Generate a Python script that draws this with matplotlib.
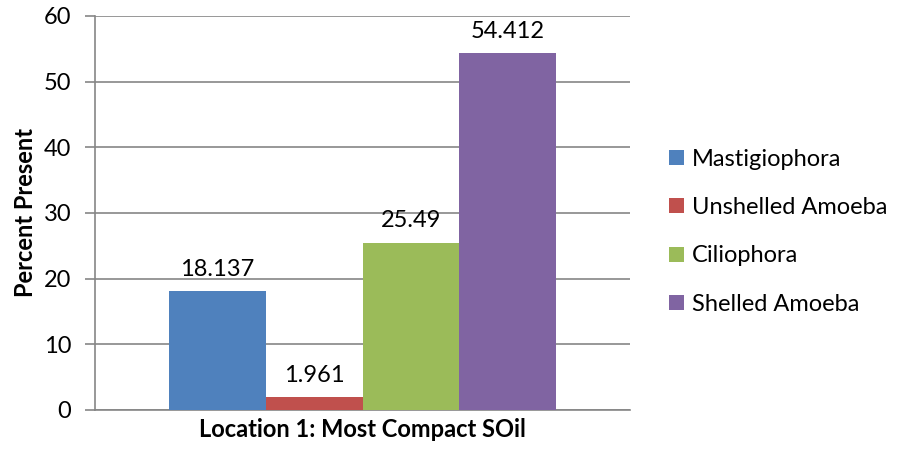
import numpy as np
import matplotlib.pyplot as plt

plt.rcParams['font.family'] = ['Lato', 'DejaVu Sans']

series = ['Mastigiophora', 'Unshelled Amoeba', 'Ciliophora', 'Shelled Amoeba']
values = [18.137, 1.961, 25.49, 54.412]
labels = ['18.137', '1.961', '25.49', '54.412']
colors = ['#4F81BD', '#C0504D', '#9BBB59', '#8064A2']
category = 'Location 1: Most Compact SOil'

fig = plt.figure(figsize=(9, 4.49), dpi=100)
ax = fig.add_axes([0.1056, 0.0869, 0.5944, 0.8775])

w = 0.181
offsets = (np.arange(len(series)) - 1.5) * w
for off, v, lab, c, name in zip(offsets, values, labels, colors, series):
    ax.bar(off, v, width=w, color=c, label=name, zorder=3)
    ax.annotate(lab, (off, v), xytext=(0, 8), textcoords='offset points',
                ha='center', va='bottom', fontsize=17, color='#000000')

ax.set_xlim(-0.5, 0.5)
ax.set_ylim(0, 60)
ax.set_yticks(range(0, 61, 10))
ax.yaxis.grid(True, color='#868686', linewidth=1.2, zorder=0)
ax.set_xticks([0])
ax.set_xticklabels([category], fontsize=17, fontweight='bold')
ax.tick_params(axis='x', length=0, pad=6)
ax.tick_params(axis='y', length=7, width=1.2, color='#868686', labelsize=17, pad=10)
for s in ['top', 'right']:
    ax.spines[s].set_visible(False)
for s in ['left', 'bottom']:
    ax.spines[s].set_color('#868686')
    ax.spines[s].set_linewidth(1.2)
ax.set_ylabel('Percent Present', fontsize=17, fontweight='bold', labelpad=5)

ax.legend(loc='center left', bbox_to_anchor=(1.034, 0.452), frameon=False,
          fontsize=17, handlelength=0.6, handleheight=0.6, handletextpad=0.35,
          labelspacing=1.15)

fig.savefig('out.png', dpi=100)
